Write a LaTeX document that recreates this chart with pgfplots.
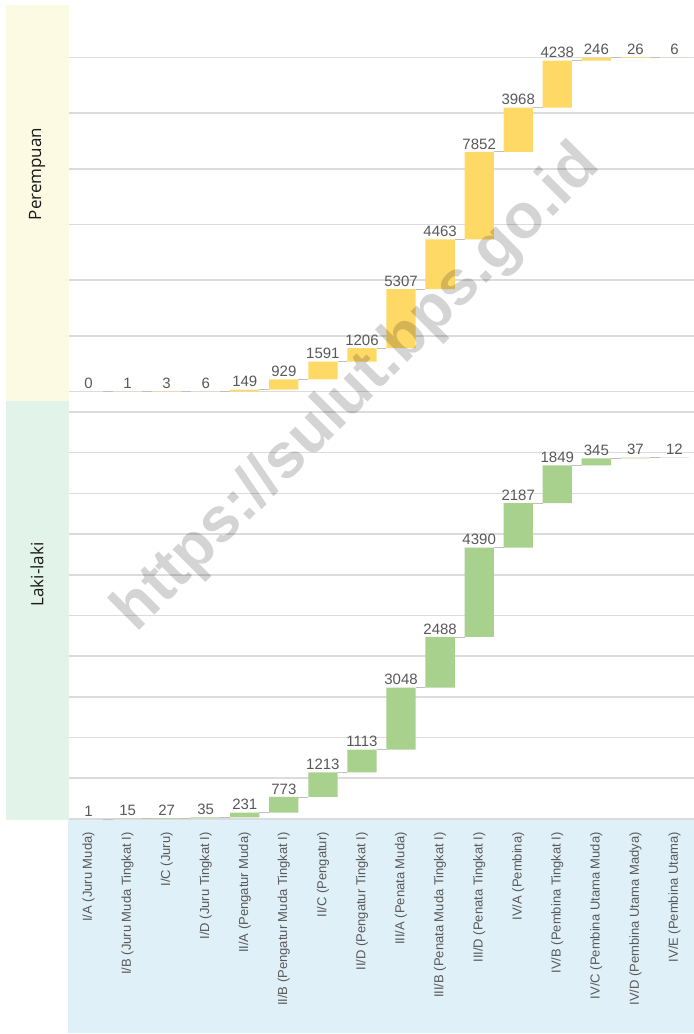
\documentclass[border=0pt]{standalone}
\usepackage{pgfplots}
\pgfplotsset{compat=1.18}
\usepackage{pgfplotstable}
\usepackage{fontspec}
\setmainfont{Liberation Sans}
\newfontfamily\osans{Open Sans}
\definecolor{ybarc}{HTML}{FFD966}
\definecolor{gbarc}{HTML}{A9D18E}
\definecolor{stripY}{HTML}{FCFAE2}
\definecolor{stripG}{HTML}{E2F3EA}
\definecolor{boxB}{HTML}{DFF0F8}
\definecolor{gridc}{HTML}{DCDCDC}
\definecolor{conc}{HTML}{BFBFBF}
\definecolor{labc}{HTML}{595959}
\definecolor{stripT}{HTML}{1A1A1A}

\pgfplotstableread{
start value end
0 0 0
0 1 1
1 3 4
4 6 10
10 149 159
159 929 1088
1088 1591 2679
2679 1206 3885
3885 5307 9192
9192 4463 13655
13655 7852 21507
21507 3968 25475
25475 4238 29713
29713 246 29959
29959 26 29985
29985 6 29991
}\perem

\pgfplotstableread{
start value end
0 1 1
1 15 16
16 27 43
43 35 78
78 231 309
309 773 1082
1082 1213 2295
2295 1113 3408
3408 3048 6456
6456 2488 8944
8944 4390 13334
13334 2187 15521
15521 1849 17370
17370 345 17715
17715 37 17752
17752 12 17764
}\laki

\pgfplotsset{
  base/.style={scale only axis, width=625bp, xmin=-0.5, xmax=15.5,
    scaled y ticks=false, scaled x ticks=false,
    axis line style={draw=none}, tick style={draw=none}, anchor=south west},
  topdim/.style={at={(69bp,633bp)}, height=396bp, ymin=-850, ymax=34700},
  botdim/.style={at={(69bp,214bp)}, height=419bp, ymin=-50, ymax=20540},
  conn/.style={draw=none, skip coords between index={15}{16},
    error bars/.cd, x dir=both, x fixed=0.125, error mark=none,
    error bar style={draw=conc, line width=0.9bp}},
  labs/.style={draw=none, nodes near coords, point meta=explicit symbolic,
    nodes near coords align={anchor=south},
    nodes near coords style={font=\fontsize{15bp}{18bp}\selectfont, text=labc, inner sep=2.5bp}},
}

\begin{document}
\begin{tikzpicture}[x=1bp,y=1bp]
\useasboundingbox (0,0) rectangle (694,1034);
\fill[white] (0,0) rectangle (694,1034);
\fill[stripY] (6,633) rectangle (69,1029);
\fill[stripG] (6,214) rectangle (69,633);
\fill[boxB] (68,1) rectangle (694,214);
\node[rotate=90, font=\osans\fontsize{17bp}{20bp}\selectfont, text=stripT] at (37,860) {Perempuan};
\node[rotate=90, font=\osans\fontsize{17bp}{20bp}\selectfont, text=stripT] at (37,459.5) {Laki-laki};

% ---- Perempuan bars
\begin{axis}[base, topdim, ytick={0,5000,...,30000}, yticklabel=\empty, xtick=\empty,
  ymajorgrids, grid style={gridc, line width=1.6bp}, ybar stacked, bar width=0.75]
\addplot[draw=none, fill=none] table[x expr=\coordindex, y=start]{\perem};
\addplot[draw=none, fill=ybarc] table[x expr=\coordindex, y=value]{\perem};
\end{axis}
\begin{axis}[base, topdim, hide axis, clip=false]
\addplot[conn] table[x expr=\coordindex+0.5, y=end]{\perem};
\addplot[labs] table[x expr=\coordindex, y=end, meta=value]{\perem};
\end{axis}

% ---- Laki-laki bars
\begin{axis}[base, botdim, ytick={0,2000,...,20000}, yticklabel=\empty,
  xtick={0,...,15},
  xticklabels={{I/A (Juru Muda)},{I/B (Juru Muda Tingkat I)},{I/C (Juru)},{I/D (Juru Tingkat I)},
    {II/A (Pengatur Muda)},{II/B (Pengatur Muda Tingkat I)},{II/C (Pengatur)},{II/D (Pengatur Tingkat I)},
    {III/A (Penata Muda)},{III/B (Penata Muda Tingkat I)},{III/D (Penata Tingkat I)},{IV/A (Pembina)},
    {IV/B (Pembina Tingkat I)},{IV/C (Pembina Utama Muda)},{IV/D (Pembina Utama Madya)},{IV/E (Pembina Utama)}},
  xticklabel style={rotate=90, anchor=east, font=\fontsize{13bp}{15bp}\selectfont, text=labc, inner xsep=12bp, inner ysep=0pt},
  ymajorgrids, grid style={gridc, line width=1.6bp}, ybar stacked, bar width=0.75]
\addplot[draw=none, fill=none] table[x expr=\coordindex, y=start]{\laki};
\addplot[draw=none, fill=gbarc] table[x expr=\coordindex, y=value]{\laki};
\end{axis}
\begin{axis}[base, botdim, hide axis, clip=false]
\addplot[conn] table[x expr=\coordindex+0.5, y=end]{\laki};
\addplot[labs] table[x expr=\coordindex, y=end, meta=value]{\laki};
\end{axis}

\node[rotate=45, font=\bfseries\fontsize{63bp}{63bp}\selectfont, text=black, text opacity=0.17] at (358,645) {https://sulut.bps.go.id};
\end{tikzpicture}
\end{document}
